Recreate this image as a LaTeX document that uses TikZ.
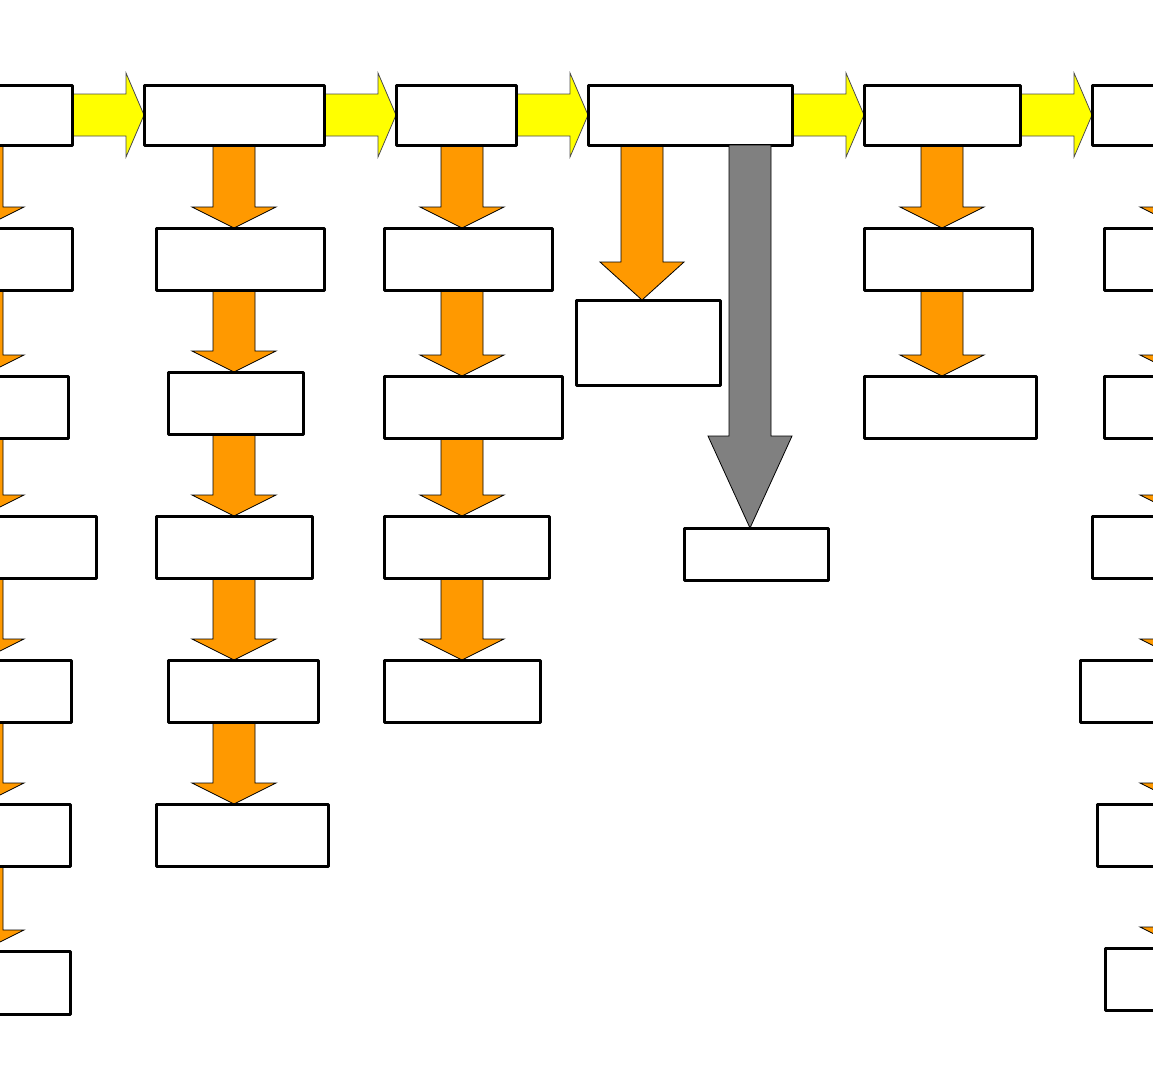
\documentclass[tikz,border=0pt]{standalone}
\usepackage{tikz}
\usetikzlibrary{calc}
\pgfdeclarelayer{background}
\pgfsetlayers{background,main}

\definecolor{arrowor}{HTML}{FF9900}
\definecolor{arrowye}{HTML}{FFFF00}
\definecolor{arrowgr}{HTML}{808080}

\tikzset{
  box/.style={draw=black,line width=3pt,line join=round,fill=white,outer sep=0pt,inner sep=0pt,minimum height=62pt},
  orarrow/.style={draw=black,line width=0.8pt,fill=arrowor},
  grarrow/.style={draw=black,line width=0.8pt,fill=arrowgr},
  yearrow/.style={draw=black!70,line width=0.8pt,fill=arrowye}
}

% block arrow downwards: column, from node, to node, head length
\newcommand{\dnarrow}[5][orarrow]{%
  \draw[#1] let \p1=(#2 |- #3.south), \p2=(#2 |- #4.north) in
    (\x1-21pt,\y1) -- (\x1+21pt,\y1) -- (\x1+21pt,\y2+#5) -- (\x1+42pt,\y2+#5)
    -- (\x2,\y2) -- (\x1-42pt,\y2+#5) -- (\x1-21pt,\y2+#5) -- cycle;}
% block arrow to the right: from node, to node
\newcommand{\rtarrow}[2]{%
  \draw[yearrow] let \p1=(#1.east), \p2=(#2.west) in
    (\x1,\y1+21pt) -- (\x2-18pt,\y1+21pt) -- (\x2-18pt,\y1+42pt) -- (\x2,\y1)
    -- (\x2-18pt,\y1-42pt) -- (\x2-18pt,\y1-21pt) -- (\x1,\y1-21pt) -- cycle;}

\begin{document}
\begin{tikzpicture}[x=1pt,y=-1pt]
\useasboundingbox (0,0) rectangle (1153,1080);
\clip (0,0) rectangle (1153,1080);

% columns
\coordinate (colA) at (-18,0);
\coordinate (colB) at (234,0);
\coordinate (colC) at (462,0);
\coordinate (colD) at (642,0);
\coordinate (colG) at (750,0);
\coordinate (colE) at (942,0);
\coordinate (colF) at (1182,0);

% top row
\node[box,minimum width=182pt,minimum height=60pt] (a0) at (-19,115) {};
\node[box,minimum width=180pt,minimum height=60pt] (b0) at (234,115) {};
\node[box,minimum width=120pt,minimum height=60pt] (c0) at (456,115) {};
\node[box,minimum width=204pt,minimum height=60pt] (d0) at (690,115) {};
\node[box,minimum width=156pt,minimum height=60pt] (e0) at (942,115) {};
\node[box,minimum width=178pt,minimum height=60pt] (f0) at (1181,115) {};

% first column
\node[box,minimum width=182pt] (a1) at (-19,259) {};
\node[box,minimum width=178pt] (a2) at (-21,407) {};
\node[box,minimum width=206pt] (a3) at (-7,547) {};
\node[box,minimum width=181pt] (a4) at (-19.5,691) {};
\node[box,minimum width=180pt] (a5) at (-20,835) {};
\node[box,minimum width=180pt,minimum height=63pt] (a6) at (-20,982.5) {};

% second column
\node[box,minimum width=168pt] (b1) at (240,259) {};
\node[box,minimum width=135pt] (b2) at (235.5,403) {};
\node[box,minimum width=156pt] (b3) at (234,547) {};
\node[box,minimum width=150pt] (b4) at (243,691) {};
\node[box,minimum width=172pt] (b5) at (242,835) {};

% third column
\node[box,minimum width=168pt] (c1) at (468,259) {};
\node[box,minimum width=178pt] (c2) at (473,407) {};
\node[box,minimum width=165pt] (c3) at (466.5,547) {};
\node[box,minimum width=156pt] (c4) at (462,691) {};

% fourth column
\node[box,minimum width=144pt,minimum height=85pt] (d1) at (648,342.5) {};
\node[box,minimum width=144pt,minimum height=52pt] (d2) at (756,554) {};

% fifth column
\node[box,minimum width=168pt] (e1) at (948,259) {};
\node[box,minimum width=172pt] (e2) at (950,407) {};

% last column
\node[box,minimum width=166pt] (f1) at (1187,259) {};
\node[box,minimum width=166pt] (f2) at (1187,407) {};
\node[box,minimum width=178pt] (f3) at (1181,547) {};
\node[box,minimum width=190pt] (f4) at (1175,691) {};
\node[box,minimum width=173pt] (f5) at (1183.5,835) {};
\node[box,minimum width=165pt] (f6) at (1187.5,979) {};

\begin{pgfonlayer}{background}
\rtarrow{a0}{b0}
\rtarrow{b0}{c0}
\rtarrow{c0}{d0}
\rtarrow{d0}{e0}
\rtarrow{e0}{f0}
\foreach \s/\t in {a0/a1,a1/a2,a2/a3,a3/a4,a4/a5,a5/a6}
  \dnarrow{colA}{\s}{\t}{21pt};
\foreach \s/\t in {b0/b1,b1/b2,b2/b3,b3/b4,b4/b5}
  \dnarrow{colB}{\s}{\t}{21pt};
\foreach \s/\t in {c0/c1,c1/c2,c2/c3,c3/c4}
  \dnarrow{colC}{\s}{\t}{21pt};
\dnarrow{colD}{d0}{d1}{38pt}
\foreach \s/\t in {e0/e1,e1/e2}
  \dnarrow{colE}{\s}{\t}{21pt};
\foreach \s/\t in {f0/f1,f1/f2,f2/f3,f3/f4,f4/f5,f5/f6}
  \dnarrow{colF}{\s}{\t}{21pt};
\end{pgfonlayer}
% long grey arrow over the target box
\dnarrow[grarrow]{colG}{d0}{d2}{92pt}
\end{tikzpicture}
\end{document}
